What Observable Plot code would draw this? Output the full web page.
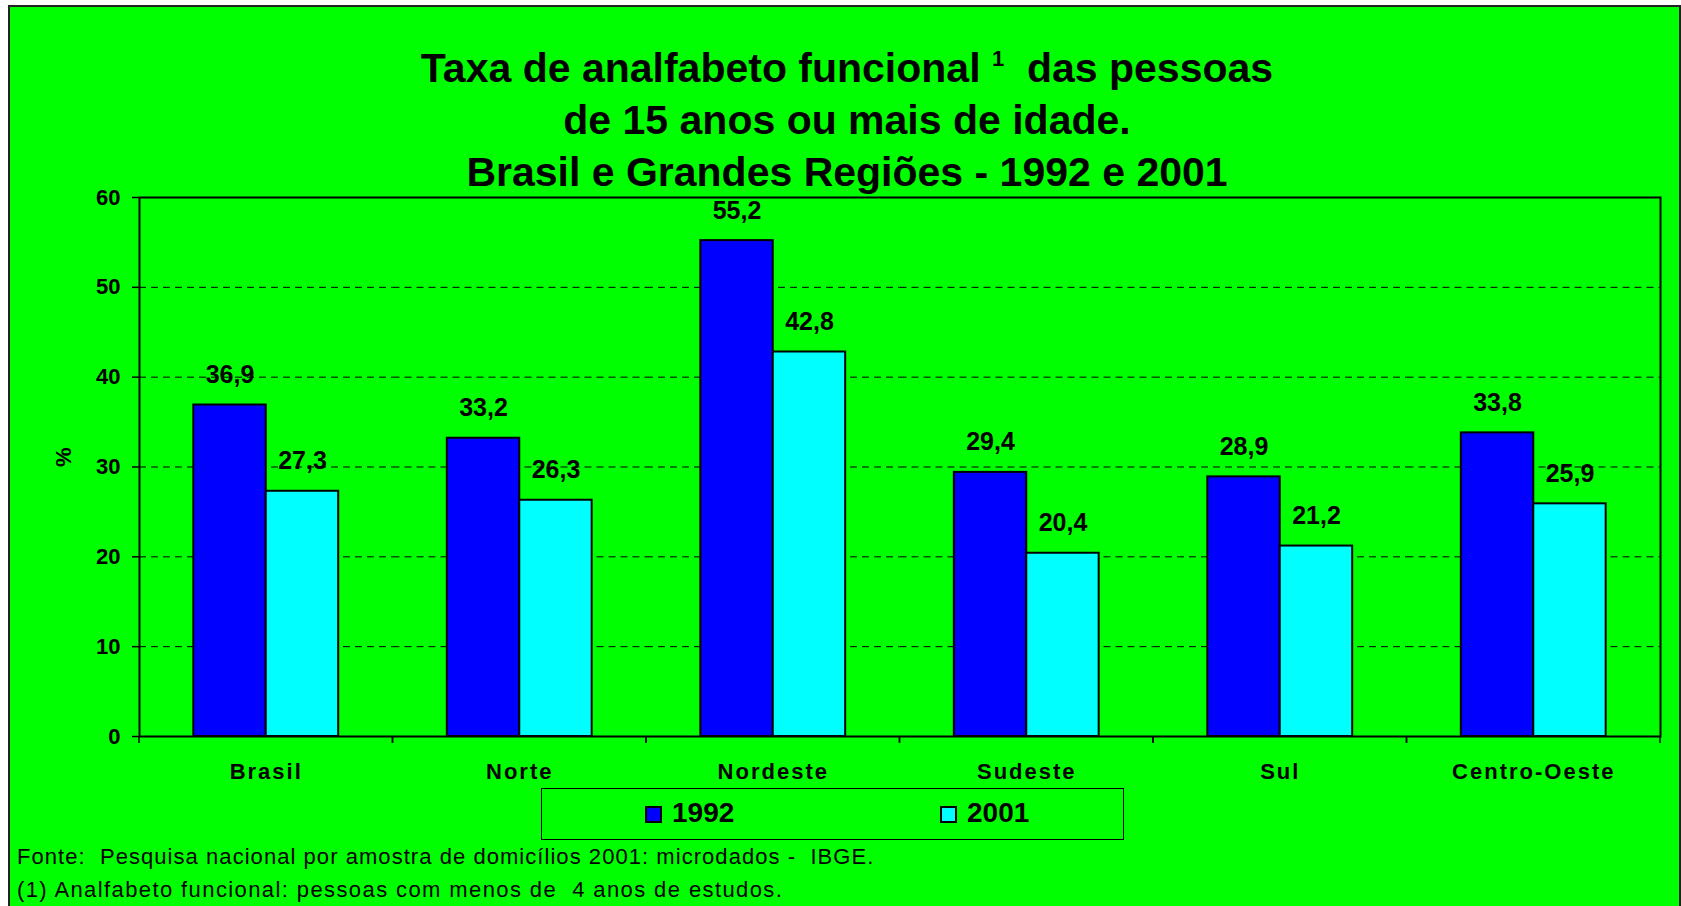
<!DOCTYPE html>
<html>
<head>
<meta charset="utf-8">
<script src="https://cdn.jsdelivr.net/npm/d3@7"></script>
<script src="https://cdn.jsdelivr.net/npm/@observablehq/plot@0.6"></script>
<style>
  html, body { margin: 0; padding: 0; background: #fff; }
  #wrap { position: relative; width: 1681px; height: 906px; overflow: hidden; font-family: "Liberation Sans", Arial, sans-serif; }
  #box { position: absolute; left: 8px; top: 5px; width: 1673px; height: 960px; box-sizing: border-box; border: 2px solid #222; background: #00ff00; }
  .title { position: absolute; left: 0; width: 1694px; text-align: center; font-weight: bold; font-size: 41px; line-height: 52px; color: #000; white-space: pre; }
  .title sup { font-size: 22px; vertical-align: 0; position: relative; top: -16px; }
  #chart { position: absolute; left: 0; top: 0; }
  #chart svg g[aria-label="fx-axis tick label"] text { letter-spacing: 2px; }
  .legbox { position: absolute; left: 541px; top: 788px; width: 583px; height: 52px; box-sizing: border-box; border: 1.5px solid #000; }
  .sw { position: absolute; width: 17px; height: 17px; box-sizing: border-box; border: 2px solid #000; top: 806px; }
  .lt { position: absolute; top: 799px; font-size: 28px; line-height: 28px; font-weight: bold; color: #000; }
  .foot { position: absolute; left: 17px; font-size: 22px; line-height: 22px; color: #000; white-space: pre; }
</style>
</head>
<body>
<div id="wrap">
  <div id="box"></div>
  <div class="title" style="top:42px">Taxa de analfabeto funcional <sup>1</sup>  das pessoas</div>
  <div class="title" style="top:94px">de 15 anos ou mais de idade.</div>
  <div class="title" style="top:146px">Brasil e Grandes Regiões - 1992 e 2001</div>
  <div id="chart"></div>
  <div class="legbox"></div>
  <div id="legend"></div>
  <div class="foot" style="top:846px; letter-spacing:1.05px">Fonte:  Pesquisa nacional por amostra de domicílios 2001: microdados -  IBGE.</div>
  <div class="foot" style="top:879px; letter-spacing:1.4px">(1) Analfabeto funcional: pessoas com menos de  4 anos de estudos.</div>
</div>
<script>
const categories = ["Brasil", "Norte", "Nordeste", "Sudeste", "Sul", "Centro-Oeste"];
const years = ["1992", "2001"];
const values1992 = [36.9, 33.2, 55.2, 29.4, 28.9, 33.8];
const values2001 = [27.3, 26.3, 42.8, 20.4, 21.2, 25.9];
const colors = ["#0000ff", "#00ffff"];
const yTicks = [0, 10, 20, 30, 40, 50, 60];
const gridValues = [10, 20, 30, 40, 50];

const series = [values1992, values2001];
const rows = [];
categories.forEach((c, i) => {
  years.forEach((yr, j) => rows.push({region: c, year: yr, value: series[j][i]}));
});

const fmt = v => v.toFixed(1).replace(".", ",");

// category boundary ticks below the baseline (drawn per facet at its edges)
const boundaryTicks = (index, scales, values, dims) => {
  const ns = "http://www.w3.org/2000/svg";
  const g = document.createElementNS(ns, "g");
  const y0 = dims.height - dims.marginBottom;
  for (const x of [dims.marginLeft, dims.width - dims.marginRight]) {
    const l = document.createElementNS(ns, "line");
    l.setAttribute("x1", x); l.setAttribute("x2", x);
    l.setAttribute("y1", y0); l.setAttribute("y2", y0 + 7);
    l.setAttribute("stroke", "#000"); l.setAttribute("stroke-width", 1.5);
    g.appendChild(l);
  }
  return g;
};

const chart = Plot.plot({
  width: 1681,
  height: 800,
  marginLeft: 139,
  marginRight: 21,
  marginTop: 197,
  marginBottom: 64,
  style: {background: "transparent", color: "#000", fontFamily: "'Liberation Sans', Arial, sans-serif", fontWeight: "bold", fontSize: "22px", overflow: "visible"},
  fx: {domain: categories, padding: 0, round: false},
  x: {domain: years, paddingInner: 0, paddingOuter: 0.75, round: false, axis: null},
  y: {domain: [0, 60]},
  color: {domain: years, range: colors},
  marks: [
    Plot.ruleY(gridValues, {stroke: "#000", strokeWidth: 1, strokeDasharray: "7,5"}),
    Plot.barY(rows, {fx: "region", x: "year", y: "value", fill: "year", stroke: "#000", strokeWidth: 2}),
    Plot.text(rows, {fx: "region", x: "year", y: "value", text: d => fmt(d.value), lineAnchor: "bottom", dy: -22, fontSize: 25, fontWeight: "bold", fill: "#000"}),
    Plot.frame({facet: "super", stroke: "#000", strokeWidth: 2}),
    boundaryTicks,
    Plot.axisY({ticks: yTicks, tickSize: 7, tickPadding: 12, fontSize: 22, fontWeight: "bold", label: null, strokeWidth: 1.5, tickFormat: d => String(d)}),
    Plot.axisFx({anchor: "bottom", tickSize: 0, tickPadding: 27, fontSize: 22, fontWeight: "bold", label: null}),
    Plot.text(["%"], {facet: "super", frameAnchor: "left", dx: -76, rotate: -90, fontSize: 22, fontWeight: "bold", fill: "#000"})
  ]
});
document.getElementById("chart").appendChild(chart);

// legend built from the same arrays
const legend = document.getElementById("legend");
const swX = [645, 940];
years.forEach((yr, i) => {
  const sw = document.createElement("div");
  sw.className = "sw";
  sw.style.left = swX[i] + "px";
  sw.style.background = colors[i];
  legend.appendChild(sw);
  const t = document.createElement("div");
  t.className = "lt";
  t.style.left = (swX[i] + 27) + "px";
  t.textContent = yr;
  legend.appendChild(t);
});
</script>
</body>
</html>
